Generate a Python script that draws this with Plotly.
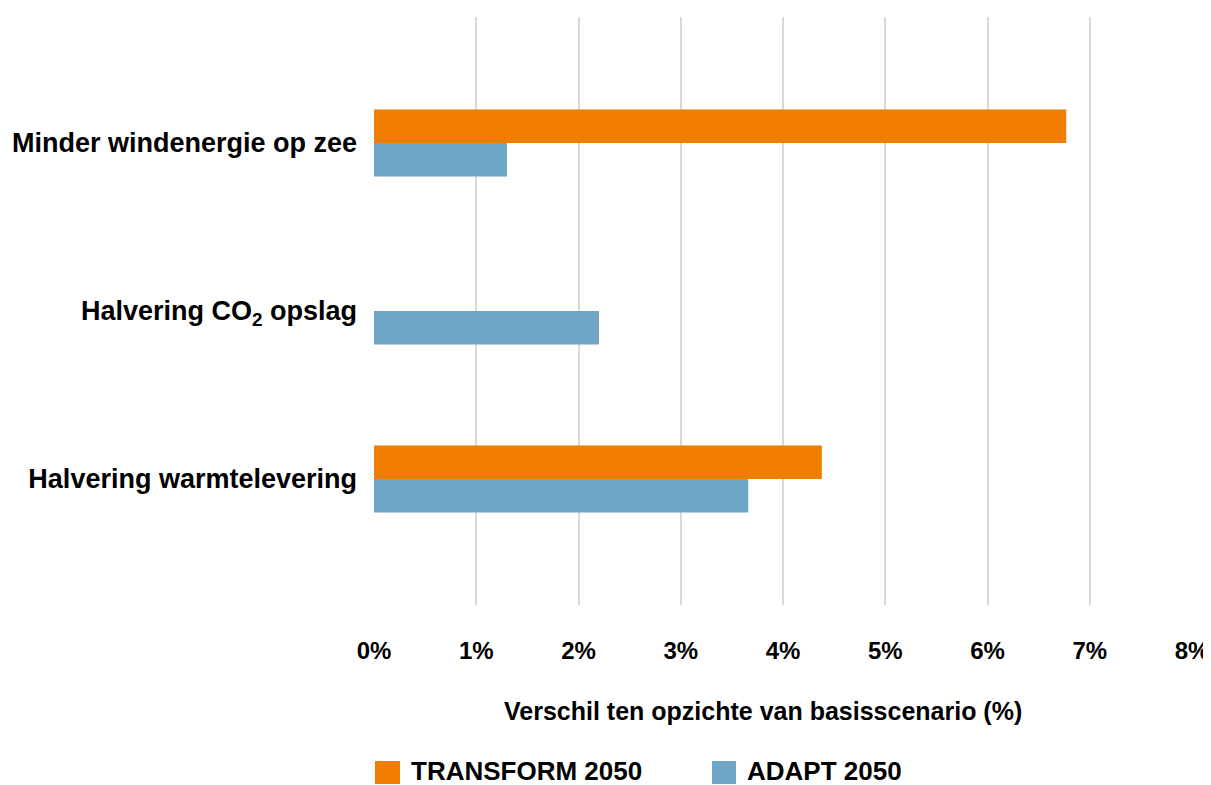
import plotly.graph_objects as go

categories = ["Minder windenergie op zee", "Halvering CO<sub>2</sub> opslag", "Halvering warmtelevering"]
series_names = ["TRANSFORM 2050", "ADAPT 2050"]
transform_vals = [6.77, 0.0, 4.38]
adapt_vals = [1.30, 2.20, 3.66]
colors = ["#F07D00", "#6FA5C5"]
x_ticks = [0, 1, 2, 3, 4, 5, 6, 7, 8]
x_title = "Verschil ten opzichte van basisscenario (%)"

FONT = "Liberation Sans"
OFF = 8  # page body margin in the browser

fig = go.Figure()
for name, vals, col in zip(series_names, [transform_vals, adapt_vals], colors):
    fig.add_trace(go.Bar(
        y=categories, x=vals, name=name, orientation="h",
        marker=dict(color=col, line=dict(width=0)), showlegend=False,
    ))

# plot area in screen pixels: x 374..1192, y 17..605
def px_x(p):
    return (p - 374) / 818
def px_y(p):
    return (605 - p) / 588

annotations = [dict(
    text="<b>" + x_title + "</b>", xref="paper", yref="paper",
    x=px_x(763), y=px_y(711), xanchor="center", yanchor="middle",
    showarrow=False, font=dict(family=FONT, size=25, color="#000000"),
)]
shapes = []
leg_sq = [(375, 400), (712, 736)]
leg_txt = [409, 745]
for name, col, (sx0, sx1), tx in zip(series_names, colors, leg_sq, leg_txt):
    shapes.append(dict(type="rect", xref="paper", yref="paper",
                       x0=px_x(sx0), x1=px_x(sx1), y0=px_y(761), y1=px_y(784),
                       fillcolor=col, line=dict(width=0)))
    annotations.append(dict(text="<b>" + name + "</b>", xref="paper", yref="paper",
                            x=px_x(tx), y=px_y(771), xanchor="left", yanchor="middle",
                            showarrow=False, font=dict(family=FONT, size=26, color="#000000")))

fig.update_layout(
    width=1211 - OFF, height=785 - OFF,
    margin=dict(l=374 - OFF, r=19, t=17 - OFF, b=180, autoexpand=False),
    paper_bgcolor="white", plot_bgcolor="white",
    barmode="group", bargap=0.6, bargroupgap=0,
    font=dict(family=FONT, size=24, color="#000000"),
    xaxis=dict(
        range=[0, 8], tickvals=x_ticks, ticktext=[f"<b>{v}%</b>" for v in x_ticks],
        showgrid=True, gridcolor="#D9D9D9", gridwidth=2,
        zeroline=False, showline=False, ticks="",
        ticklabelstandoff=29, tickfont=dict(family=FONT, size=24, color="#000000"),
        fixedrange=True,
    ),
    yaxis=dict(
        type="category", categoryorder="array", categoryarray=categories,
        range=[2.75, -0.75], showgrid=False, zeroline=False, showline=False, ticks="",
        tickvals=categories, ticktext=["<b>" + c + "</b>" for c in categories],
        ticklabelstandoff=16, tickfont=dict(family=FONT, size=27, color="#000000"),
        fixedrange=True,
    ),
    annotations=annotations, shapes=shapes,
)

fig.write_html("out.html")
